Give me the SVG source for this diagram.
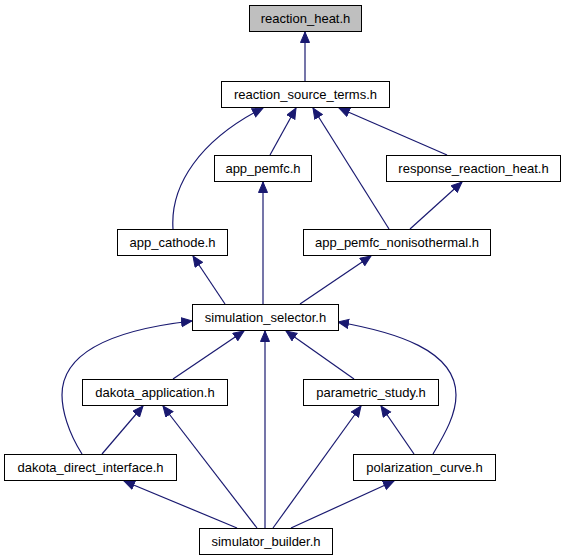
<svg xmlns="http://www.w3.org/2000/svg" width="568" height="560" viewBox="0 0 568 560">
<style>
.n rect{fill:#fff;stroke:#000;stroke-width:1}
.n text{font-family:"Liberation Sans",Arial,sans-serif;font-size:13px;text-anchor:middle;fill:#000}
#edges path{fill:none;stroke:#191970;stroke-width:1.2;marker-end:url(#ah)}
</style>
<defs>
<marker id="ah" markerUnits="userSpaceOnUse" markerWidth="12" markerHeight="11" refX="11" refY="5" orient="auto" viewBox="0 0 12 11">
<path d="M0.5,0.5 L11,5 L0.5,9.5 z" fill="#191970" stroke="#191970" stroke-width="1"/>
</marker>
</defs>
<rect width="568" height="560" fill="#fff"/>
<g id="edges">
<path d="M305,81 L305,32"/>
<path d="M173,229 C170,185 200,140 263,108"/>
<path d="M270,155 L296,108"/>
<path d="M389,229 L313,108"/>
<path d="M447,155 L339,108"/>
<path d="M410,229 L462,182"/>
<path d="M263,304 L263,182"/>
<path d="M225,304 L193,256"/>
<path d="M300,304 L371,256"/>
<path d="M173,379 L244,331"/>
<path d="M265,528 L265,331"/>
<path d="M354,379 L286,331"/>
<path d="M82,454 C68,432 62,410 62,395 C62,345 130,328 192,321"/>
<path d="M433,454 C446,432 456,414 456,395 C456,350 395,332 338,322"/>
<path d="M102,454 L143,406"/>
<path d="M257,528 L163,406"/>
<path d="M273,528 L361,406"/>
<path d="M414,454 L381,406"/>
<path d="M237,528 L124,481"/>
<path d="M291,528 L394,481"/>
</g>
<g id="reaction_heat" class="n"><rect x="249.5" y="5.5" width="112" height="26" style="fill:#bfbfbf"/><text x="305.5" y="23">reaction_heat.h</text></g>
<g id="reaction_source_terms" class="n"><rect x="221.5" y="81.5" width="168" height="26"/><text x="305.5" y="99">reaction_source_terms.h</text></g>
<g id="app_pemfc" class="n"><rect x="214.5" y="155.5" width="97" height="26"/><text x="263" y="173">app_pemfc.h</text></g>
<g id="response_reaction_heat" class="n"><rect x="386.5" y="155.5" width="174" height="26"/><text x="473.5" y="173">response_reaction_heat.h</text></g>
<g id="app_cathode" class="n"><rect x="117.5" y="229.5" width="110" height="26"/><text x="172.5" y="247">app_cathode.h</text></g>
<g id="app_pemfc_nonisothermal" class="n"><rect x="303.5" y="229.5" width="187" height="26"/><text x="397" y="247">app_pemfc_nonisothermal.h</text></g>
<g id="simulation_selector" class="n"><rect x="192.5" y="304.5" width="146" height="26"/><text x="265.5" y="322">simulation_selector.h</text></g>
<g id="dakota_application" class="n"><rect x="82.5" y="379.5" width="145" height="26"/><text x="155" y="397">dakota_application.h</text></g>
<g id="parametric_study" class="n"><rect x="303.5" y="379.5" width="135" height="26"/><text x="371" y="397">parametric_study.h</text></g>
<g id="dakota_direct_interface" class="n"><rect x="4.5" y="454.5" width="172" height="26"/><text x="90.5" y="472">dakota_direct_interface.h</text></g>
<g id="polarization_curve" class="n"><rect x="353.5" y="454.5" width="142" height="26"/><text x="424.5" y="472">polarization_curve.h</text></g>
<g id="simulator_builder" class="n"><rect x="199.5" y="528.5" width="133" height="26"/><text x="266" y="546">simulator_builder.h</text></g>
</svg>
